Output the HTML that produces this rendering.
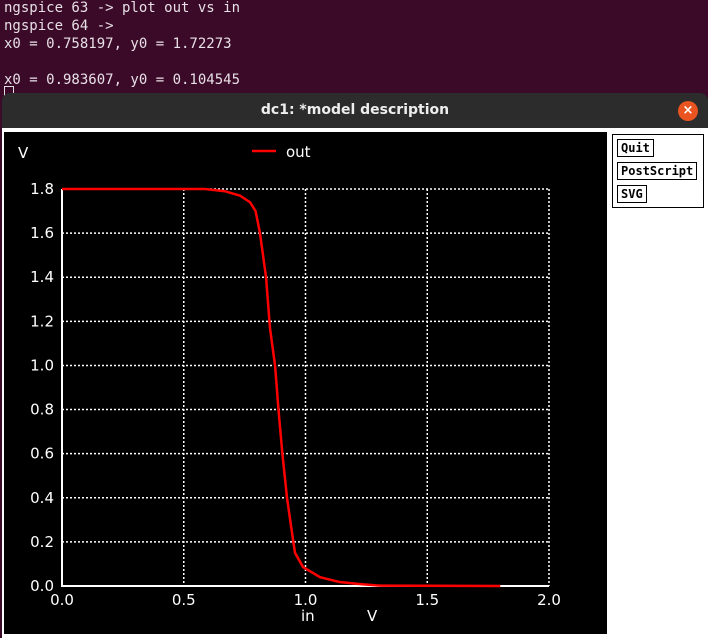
<!DOCTYPE html>
<html><head><meta charset="utf-8"><style>
body{margin:0;width:708px;height:638px;overflow:hidden;background:#3a0a28;font-family:"DejaVu Sans Mono","Liberation Mono",monospace;}
#term{position:absolute;left:4px;top:-1px;color:#e8e0e6;font-size:14px;line-height:18px;white-space:pre;}
#cur{position:absolute;left:4px;top:86px;width:8px;height:8px;border:1px solid #ddd;}
#win{position:absolute;left:2px;top:93px;width:706px;height:545px;background:#2c2c2c;border-radius:8px 8px 0 0;}
#title{position:absolute;left:0;top:0;width:706px;height:35px;line-height:35px;text-align:center;color:#eee;font-family:"DejaVu Sans","Liberation Sans",sans-serif;font-size:14px;font-weight:bold;}
#close{position:absolute;left:676px;top:8px;width:20px;height:20px;border-radius:10px;background:#e95420;color:#fff;font-family:"DejaVu Sans",sans-serif;font-size:13px;font-weight:bold;text-align:center;line-height:20px;}
#body{position:absolute;left:0;top:35px;width:706px;height:510px;background:#fff;}
#btns{position:absolute;left:610px;top:6px;width:90px;height:72px;border:1px solid #000;}
.b{position:absolute;left:4px;border:1px solid #000;font-size:12px;font-weight:bold;padding:0 3px;height:16px;line-height:16px;}
</style></head><body>
<div id="term">ngspice 63 -&gt; plot out vs in
ngspice 64 -&gt;
x0 = 0.758197, y0 = 1.72273

x0 = 0.983607, y0 = 0.104545
</div>
<div id="cur"></div>
<div id="win">
<div id="title">dc1: *model description</div>
<div id="close">×</div>
<div id="body">
<svg width="706" height="510" style="position:absolute;left:0;top:0">
<rect x="2" y="4" width="603" height="502" fill="#000"/>
<g id="plot"></g>
</svg>
<div id="btns">
<div class="b" style="top:4px">Quit</div>
<div class="b" style="top:27px">PostScript</div>
<div class="b" style="top:50px">SVG</div>
</div>
</div>
</div>
<script>
const xTicks=[0,0.5,1.0,1.5,2.0];
const yTicks=[0,0.2,0.4,0.6,0.8,1.0,1.2,1.4,1.6,1.8];
const inV=[0,0.587,0.669,0.731,0.772,0.795,0.813,0.838,0.854,0.875,0.889,0.905,0.924,0.95,0.957,0.99,1.06,1.14,1.22,1.3,1.8];
const outV=[1.8,1.8,1.79,1.77,1.74,1.70,1.60,1.40,1.17,1.0,0.8,0.6,0.4,0.2,0.15,0.086,0.04,0.018,0.009,0.002,0.0];
const X0=60,X1=547,Y0=458,Y1=61;
const sx=v=>X0+(v-0)/(2.0)*(X1-X0);
const sy=v=>Y0-(v/1.8)*(Y0-Y1);
const g=document.getElementById('plot');
const NS='http://www.w3.org/2000/svg';
function mk(t,a,txt){const e=document.createElementNS(NS,t);for(const k in a)e.setAttribute(k,a[k]);if(txt!==undefined)e.textContent=txt;g.appendChild(e);return e;}
const F='font-family:"DejaVu Sans","Liberation Sans",sans-serif;font-size:15px';
yTicks.forEach(v=>{
 if(v>0){const l=mk('line',{x1:X0,x2:X1,y1:sy(v),y2:sy(v),stroke:'#fff','stroke-width':1.5,'stroke-dasharray':'2,2'});
 }
 const t=mk('text',{x:X0-8,y:sy(v)+5,fill:'#fff','text-anchor':'end',style:F},v.toFixed(1));
 
});
xTicks.forEach(v=>{
 if(v>0){const l=mk('line',{x1:sx(v),x2:sx(v),y1:Y1,y2:Y0,stroke:'#fff','stroke-width':1.5,'stroke-dasharray':'2,2'});
 }
 const t=mk('text',{x:sx(v),y:Y0+19,fill:'#fff','text-anchor':'middle',style:F},v.toFixed(1));
 
});
let ax=mk('path',{d:`M${X0},${Y1} V${Y0} H${X1}`,stroke:'#fff','stroke-width':2,fill:'none'});

let pl=mk('polyline',{points:inV.map((x,i)=>sx(x)+','+sy(outV[i])).join(' '),stroke:'#f00','stroke-width':2.5,fill:'none'});

let t1=mk('text',{x:16,y:30,fill:'#fff',style:F},'V');
let t2=mk('text',{x:299,y:493,fill:'#fff',style:F},'in');
let t3=mk('text',{x:365,y:493,fill:'#fff',style:F},'V');
let ll=mk('line',{x1:250,x2:274,y1:23,y2:23,stroke:'#f00','stroke-width':2.5});
let lt=mk('text',{x:284,y:29,fill:'#fff',style:F},'out');
</script>
</body></html>
